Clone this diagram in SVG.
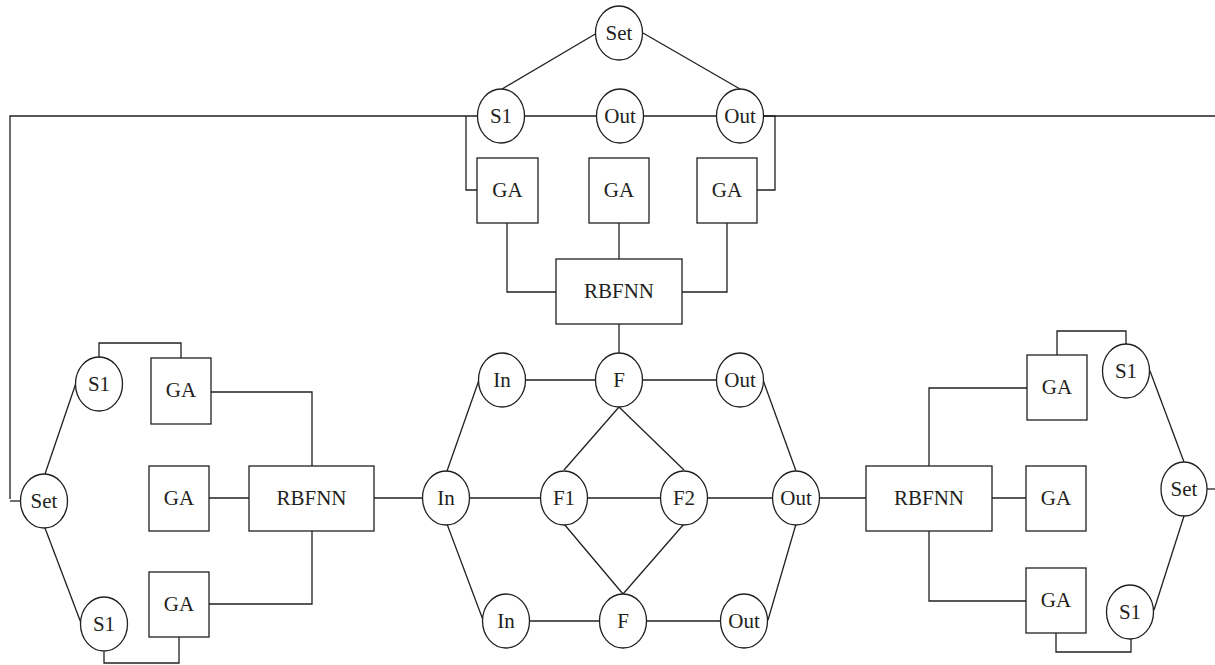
<svg xmlns="http://www.w3.org/2000/svg" width="1215" height="665" viewBox="0 0 1215 665">
  <style>
    .n { fill: #fff; stroke: #231f20; stroke-width: 1.3; }
    .c { fill: none; stroke: #231f20; stroke-width: 1.3; }
    .t { font-family: 'Liberation Serif', 'DejaVu Serif', serif; font-size: 21px; fill: #231f20; text-anchor: middle; }
  </style>
  <rect width="1215" height="665" fill="#fff"/>

  <!-- connectors -->
  <g id="connectors" class="c">
    <!-- top cluster -->
    <line x1="597" y1="33" x2="502" y2="89"/>
    <line x1="643" y1="33" x2="740" y2="89"/>
    <polyline points="10,499 10,116 477,116"/>
    <line x1="525" y1="116" x2="596" y2="116"/>
    <line x1="643" y1="116" x2="716" y2="116"/>
    <line x1="764" y1="116" x2="1215" y2="116"/>
    <polyline points="466,116 466,190 477,190"/>
    <polyline points="764,116 775,116 775,190 757,190"/>
    <polyline points="507,223 507,292 556,292"/>
    <line x1="619" y1="223" x2="619" y2="259"/>
    <polyline points="727,223 727,292 682,292"/>
    <line x1="619" y1="324" x2="619" y2="353"/>

    <!-- centre cluster -->
    <line x1="525" y1="380" x2="596" y2="380"/>
    <line x1="642" y1="380" x2="716" y2="380"/>
    <line x1="447" y1="471" x2="479" y2="380"/>
    <line x1="447" y1="524" x2="483" y2="620"/>
    <line x1="763" y1="380" x2="796" y2="471"/>
    <line x1="796" y1="524" x2="768" y2="620"/>
    <line x1="619" y1="407" x2="564" y2="470"/>
    <line x1="619" y1="407" x2="684" y2="470"/>
    <line x1="564" y1="524" x2="623" y2="594"/>
    <line x1="684" y1="524" x2="623" y2="594"/>
    <line x1="469" y1="498" x2="541" y2="498"/>
    <line x1="588" y1="498" x2="661" y2="498"/>
    <line x1="707" y1="498" x2="773" y2="498"/>
    <line x1="529" y1="621" x2="600" y2="621"/>
    <line x1="646" y1="621" x2="721" y2="621"/>

    <!-- left cluster -->
    <line x1="10" y1="501" x2="21" y2="501"/>
    <line x1="45" y1="474" x2="76" y2="383"/>
    <line x1="45" y1="528" x2="81" y2="623"/>
    <polyline points="99,357 99,343 181,343 181,358"/>
    <polyline points="104,652 104,663 179,663 179,637"/>
    <polyline points="211,392 312,392 312,466"/>
    <line x1="209" y1="498" x2="249" y2="498"/>
    <polyline points="312,531 312,604 209,604"/>
    <line x1="374" y1="498" x2="423" y2="498"/>

    <!-- right cluster -->
    <line x1="819" y1="498" x2="866" y2="498"/>
    <polyline points="929,466 929,388 1027,388"/>
    <line x1="992" y1="498" x2="1026" y2="498"/>
    <polyline points="929,531 929,601 1026,601"/>
    <polyline points="1057,355 1057,331 1126,331 1126,344"/>
    <polyline points="1056,633 1056,652 1131,652 1131,639"/>
    <line x1="1150" y1="371" x2="1184" y2="462"/>
    <line x1="1184" y1="516" x2="1154" y2="610"/>
    <line x1="1207" y1="489" x2="1215" y2="489"/>
  </g>

  <g font-family="Liberation Serif, DejaVu Serif, serif">
  <!-- top cluster -->
  <g id="top-set"><ellipse class="n" cx="619" cy="33" rx="23.5" ry="27"/><text class="t" x="619" y="40">Set</text></g>
  <g id="top-s1"><ellipse class="n" cx="501" cy="116" rx="23.5" ry="27"/><text class="t" x="501" y="123">S1</text></g>
  <g id="top-out1"><ellipse class="n" cx="620" cy="116" rx="23.5" ry="27"/><text class="t" x="620" y="123">Out</text></g>
  <g id="top-out2"><ellipse class="n" cx="740" cy="116" rx="23.5" ry="27"/><text class="t" x="740" y="123">Out</text></g>
  <g id="top-ga1"><rect class="n" x="477" y="158" width="61" height="65"/><text class="t" x="507.5" y="197">GA</text></g>
  <g id="top-ga2"><rect class="n" x="589" y="158" width="60" height="65"/><text class="t" x="619" y="197">GA</text></g>
  <g id="top-ga3"><rect class="n" x="697" y="158" width="60" height="65"/><text class="t" x="727" y="197">GA</text></g>
  <g id="top-rbfnn"><rect class="n" x="556" y="259" width="126" height="65"/><text class="t" x="619" y="298">RBFNN</text></g>

  <!-- centre cluster -->
  <g id="c-in-top"><ellipse class="n" cx="502" cy="380" rx="23.5" ry="27"/><text class="t" x="502" y="387">In</text></g>
  <g id="c-f-top"><ellipse class="n" cx="619" cy="380" rx="23.5" ry="27"/><text class="t" x="619" y="387">F</text></g>
  <g id="c-out-top"><ellipse class="n" cx="740" cy="380" rx="23.5" ry="27"/><text class="t" x="740" y="387">Out</text></g>
  <g id="c-in-mid"><ellipse class="n" cx="446" cy="498" rx="23.5" ry="27"/><text class="t" x="446" y="505">In</text></g>
  <g id="c-f1"><ellipse class="n" cx="564" cy="498" rx="23.5" ry="27"/><text class="t" x="564" y="505">F1</text></g>
  <g id="c-f2"><ellipse class="n" cx="684" cy="498" rx="23.5" ry="27"/><text class="t" x="684" y="505">F2</text></g>
  <g id="c-out-mid"><ellipse class="n" cx="796" cy="498" rx="23.5" ry="27"/><text class="t" x="796" y="505">Out</text></g>
  <g id="c-in-bot"><ellipse class="n" cx="506" cy="621" rx="23.5" ry="27"/><text class="t" x="506" y="628">In</text></g>
  <g id="c-f-bot"><ellipse class="n" cx="623" cy="621" rx="23.5" ry="27"/><text class="t" x="623" y="628">F</text></g>
  <g id="c-out-bot"><ellipse class="n" cx="744" cy="621" rx="23.5" ry="27"/><text class="t" x="744" y="628">Out</text></g>

  <!-- left cluster -->
  <g id="l-set"><ellipse class="n" cx="44" cy="501" rx="23.5" ry="27"/><text class="t" x="44" y="508">Set</text></g>
  <g id="l-s1-top"><ellipse class="n" cx="99" cy="384" rx="23.5" ry="27"/><text class="t" x="99" y="391">S1</text></g>
  <g id="l-s1-bot"><ellipse class="n" cx="104" cy="624" rx="23.5" ry="27"/><text class="t" x="104" y="631">S1</text></g>
  <g id="l-ga1"><rect class="n" x="151" y="358" width="60" height="66"/><text class="t" x="181" y="397">GA</text></g>
  <g id="l-ga2"><rect class="n" x="149" y="466" width="60" height="65"/><text class="t" x="179" y="505">GA</text></g>
  <g id="l-ga3"><rect class="n" x="149" y="572" width="60" height="65"/><text class="t" x="179" y="611">GA</text></g>
  <g id="l-rbfnn"><rect class="n" x="249" y="466" width="125" height="65"/><text class="t" x="311.5" y="505">RBFNN</text></g>

  <!-- right cluster -->
  <g id="r-rbfnn"><rect class="n" x="866" y="466" width="126" height="65"/><text class="t" x="929" y="505">RBFNN</text></g>
  <g id="r-ga1"><rect class="n" x="1027" y="355" width="60" height="65"/><text class="t" x="1057" y="394">GA</text></g>
  <g id="r-ga2"><rect class="n" x="1026" y="466" width="60" height="65"/><text class="t" x="1056" y="505">GA</text></g>
  <g id="r-ga3"><rect class="n" x="1026" y="568" width="60" height="65"/><text class="t" x="1056" y="607">GA</text></g>
  <g id="r-s1-top"><ellipse class="n" cx="1126" cy="371" rx="23.5" ry="27"/><text class="t" x="1126" y="378">S1</text></g>
  <g id="r-s1-bot"><ellipse class="n" cx="1130" cy="612" rx="23.5" ry="27"/><text class="t" x="1130" y="619">S1</text></g>
  <g id="r-set"><ellipse class="n" cx="1184" cy="489" rx="23" ry="27"/><text class="t" x="1184" y="496">Set</text></g>
  </g>
</svg>
